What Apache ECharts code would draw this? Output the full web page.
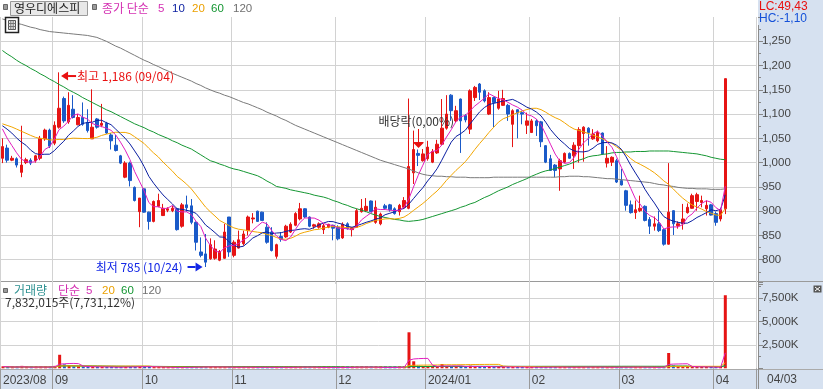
<!DOCTYPE html>
<html><head><meta charset="utf-8">
<style>
html,body{margin:0;padding:0;background:#fff;overflow:hidden;}
#wrap{position:relative;width:823px;height:389px;}
.bg{position:absolute;background:#D6E1F0;}
.ln{position:absolute;background:#9a9a9a;}
#c{position:absolute;left:0;top:0;width:823px;height:389px;}
</style>
<script src="https://cdn.jsdelivr.net/npm/echarts@6/dist/echarts.min.js"></script>
</head><body>
<div id="wrap">
  <div class="bg" style="left:758px;top:0;width:65px;height:389px;"></div>
  <div class="bg" style="left:0;top:370px;width:823px;height:19px;"></div>
  <div class="ln" style="left:0;top:281px;width:823px;height:1px;"></div>
  <div class="ln" style="left:0;top:369px;width:823px;height:1px;background:#aaa;"></div>
  <div class="ln" style="left:758px;top:25px;width:1px;height:364px;background:#8c8c8c;"></div>
  <div id="c"></div>
</div>
<script>
// ---------- data ----------
const months = [
  ['2023-08',[17,18,21,22,23,24,25,28,29,30,31]],
  ['2023-09',[1,4,5,6,7,8,11,12,13,14,15,18,19,20,21,22,25,26,27]],
  ['2023-10',[4,5,6,10,11,12,13,16,17,18,19,20,23,24,25,26,27,30,31]],
  ['2023-11',[1,2,3,6,7,8,9,10,13,14,15,16,17,20,21,22,23,24,27,28,29,30]],
  ['2023-12',[1,4,5,6,7,8,11,12,13,14,15,18,19,20,21,22,26,27,28]],
  ['2024-01',[2,3,4,5,8,9,10,11,12,15,16,17,18,19,22,23,24,25,26,29,30,31]],
  ['2024-02',[1,2,5,6,7,8,13,14,15,16,19,20,21,22,23,26,27,28,29]],
  ['2024-03',[4,5,6,7,8,11,12,13,14,15,18,19,20,21,22,25,26,27,28,29]],
  ['2024-04',[1,2,3]]
];
const opens = [1009,1030,1005,1008,980,1000,1005,1004,1009,1049, 1067,1040,1073,1132,1084,1110,1078,1093,1083,1049,
 1090,1077,1081,1057,1036,1014,970,999,949,899, 946,898,879,910,891,902,901,905,869,913,
 911,877,816,812,802,803,799,803,888,809, 824,833,860,884,900,898,867,857,807,848,
 847,857,871,884,905,888,869,867,862,867, 871,867,845,874,862,867,899,901,921,877,
 874,911,913,905,899,908,906,979,1019,1004, 1008,1001,1020,1038,1071,1139,1086,1131,1097,1069,
 1134,1162,1148,1100,1134,1112,1118,1118,1079,1109, 1103,1077,1062,1086,1084,1035,1008,995,987,1001,
 1019,1014,1035,1060,1071,1049,1045,1061,999,1001, 1004,963,942,913,897,901,910,883,869,874,
 862,832,901,870,874,897,906,920,918,905, 913,895,884,905];
const closes = [1033,1005,1009,995,995,1006,999,1014,1050,1067, 1034,1077,1112,1086,1118,1093,1093,1079,1066,1073,
 1073,1081,1061,1045,1025,999,999,963,922,927, 898,879,920,922,906,905,906,862,913,907,
 877,836,809,795,831,822,817,857,816,836, 841,853,888,886,879,881,836,819,831,842,
 869,873,895,905,888,869,872,874,870,873, 865,843,873,864,866,901,906,910,899,908,
 894,906,903,895,912,922,992,1027,1015,1018, 1032,1023,1038,1071,1100,1107,1107,1086,1088,1148,
 1155,1145,1127,1134,1124,1131,1132,1100,1107,1102, 1100,1086,1086,1076,1043,1001,984,984,1004,1019,
 1009,1036,1068,1073,1062,1059,1062,1018,1009,1011, 960,954,912,897,903,906,881,869,874,860,
 832,898,874,874,884,908,932,934,922,912, 892,877,903,1173];
const lows = [999,1000,1003,990,970,997,995,1000,1005,1045, 1030,1036,1070,1082,1080,1091,1077,1076,1062,1049,
 1070,1073,1059,1027,1023,997,968,951,920,867, 897,862,877,908,890,898,898,860,866,899,
 873,819,805,785,800,800,797,802,806,805, 823,829,850,875,878,880,833,817,802,837,
 845,855,869,881,886,867,864,864,853,865, 840,840,843,862,848,866,897,898,898,874,
 871,903,899,893,891,905,904,956,993,1002, 1004,999,1018,1036,1068,1086,1083,1020,1083,1059,
 1127,1129,1124,1098,1073,1109,1117,1086,1032,1050, 1079,1059,1061,1055,1032,999,984,970,942,999,
 1008,987,1000,1002,1035,1047,1042,1016,990,993, 958,953,901,895,884,898,879,853,860,857,
 829,831,851,864,862,895,905,901,908,891, 891,870,879,894];
const highs = [1050,1037,1014,1011,1076,1010,1009,1016,1055,1070, 1070,1085,1186,1136,1145,1139,1100,1124,1110,1151,
 1092,1121,1084,1061,1057,1016,1003,1002,951,927, 947,899,922,936,915,908,911,907,917,932,
 925,879,846,853,844,840,820,874,888,840, 860,860,891,896,901,899,877,867,833,857,
 872,877,898,917,906,889,874,877,874,874, 872,871,877,877,867,905,925,927,922,922,
 897,915,915,908,915,929,1132,1066,1027,1028, 1045,1028,1047,1131,1139,1141,1117,1132,1100,1151,
 1158,1164,1151,1145,1136,1148,1150,1121,1110,1110, 1107,1103,1090,1090,1086,1036,1016,997,1008,1021,
 1021,1042,1073,1075,1073,1069,1066,1062,1034,1013, 1008,987,944,922,922,932,912,888,889,901,
 864,999,902,879,915,916,936,938,932,922, 915,899,906,1173];
// volumes in thousand shares
const volumes = [180,150,90,110,260,80,70,90,210,170, 120,260,1450,420,300,180,140,160,120,240,
 110,130,100,120,110,130,150,170,180,200, 170,150,130,110,100,90,80,90,110,120,
 110,150,130,180,160,110,90,140,130,100, 90,110,130,100,90,80,120,110,100,70,
 110,90,170,160,110,90,70,80,90,70, 80,90,80,110,90,200,120,110,90,80,
 70,80,90,100,130,160,3860,750,280,220, 200,170,180,460,250,200,180,200,150,280,
 200,180,160,170,150,140,130,150,140,130, 110,100,110,120,100,130,140,110,150,100,
 90,120,150,160,120,100,110,140,120,100, 90,150,130,140,110,100,120,110,90,100,
 130,1640,300,150,160,180,200,160,120,110, 100,120,101.306,7832.015];
// closes before the first visible day (used only for the 5/10/20 averages)
const prevCloses = [1070,1075,1080,1085,1090,1088,1092,1095,1085,1080, 1075,1090,1095,1080,1072, 1100,1085,1070,1060];
// 60 and 120 day averages
const ma60 = [1231,1224,1218,1211,1205,1200,1194,1189,1183,1178, 1172,1167,1161,1156,1150,1145,1140,1134,1129,1124,
 1119,1114,1109,1105,1100,1095,1090,1085,1080,1076, 1072,1067,1063,1058,1054,1050,1045,1041,1036,1032,
 1028,1022,1016,1010,1004,1001,997,994,990,987, 985,982,979,976,973,968,962,957,951,949,
 947,944,942,940,938,936,933,931,929,926, 922,919,915,912,908,905,902,899,895,892,
 889,887,885,883,882,880,879,880,881,883, 886,889,892,895,898,901,904,908,911,915,
 918,923,928,932,937,942,946,950,955,959, 963,967,972,976,980,983,985,988,991,994,
 997,1001,1005,1008,1012,1014,1015,1017,1018,1020, 1021,1021,1022,1022,1023,1023,1023,1024,1024,1024,
 1024,1024,1023,1022,1021,1020,1019,1018,1016,1014, 1011,1009,1007,1006];
const ma120 = [1296,1293,1290,1287,1285,1282,1279,1277,1274,1272, 1270,1269,1268,1267,1266,1265,1264,1263,1262,1260,
 1258,1254,1250,1245,1240,1236,1231,1226,1221,1216, 1211,1207,1202,1198,1193,1189,1184,1180,1176,1172,
 1168,1163,1159,1154,1150,1146,1143,1139,1136,1132, 1128,1124,1121,1117,1113,1109,1104,1100,1096,1091,
 1087,1082,1077,1073,1069,1065,1061,1057,1053,1049, 1045,1041,1037,1033,1029,1025,1021,1017,1013,1009,
 1005,1002,999,996,993,990,987,983,979,976, 974,973,972,972,971,971,970,970,970,969,
 969,969,969,969,970,970,970,970,970,970, 970,970,970,970,970,970,970,970,971,971,
 972,972,972,971,971,970,969,968,967,967, 966,965,964,963,962,961,960,959,957,955,
 954,952,951,949,948,947,947,946,946,946, 945,945,945,946];
const priceTicks = [800,850,900,950,1000,1050,1100,1150,1200,1250];
const volTicks = [2500,5000,7500];

// ---------- build ----------
const RED='#E61414', BLUE='#1A5AC8';
const C5='#E11EBE', C10='#0A1EA0', C20='#F2A600', C60='#149632', C120='#7a7a7a';
const KR='"Noto Sans CJK KR", sans-serif';
const LAT='"Liberation Sans", "Noto Sans CJK KR", sans-serif';

const dates=[]; const monthStart=new Set(); const labelOf={};
months.forEach(([m,days])=>{
  days.forEach((d,k)=>{
    const s=m+'-'+String(d).padStart(2,'0');
    if(k===0){ monthStart.add(dates.length);
      const [y,mm]=m.split('-'); labelOf[s]=(dates.length===0||mm==='01')?(y+'/'+mm):mm; }
    dates.push(s);
  });
});
const cats=dates.concat(['p1','p2','p3','p4','p5','p6']);

function sma(src, prev, n){
  const all=prev.concat(src), off=prev.length;
  return src.map((_,i)=>{const j=i+off, st=Math.max(0,j-n+1); let s=0; for(let k=st;k<=j;k++) s+=all[k]; return +(s/(j-st+1)).toFixed(2);});
}
const ma5=sma(closes,prevCloses,5), ma10=sma(closes,prevCloses,10), ma20=sma(closes,prevCloses,20);
const vma5=sma(volumes,[],5), vma20=sma(volumes,[],20), vma60=sma(volumes,[],60), vma120=sma(volumes,[],120);

const ohlc=opens.map((o,i)=>[o,closes[i],lows[i],highs[i]]);
const volData=volumes.map((v,i)=>({value:v,itemStyle:{color:closes[i]>=opens[i]?RED:BLUE}}));

const chart=echarts.init(document.getElementById('c'),null,{renderer:'canvas'});
const isMS=(i)=>monthStart.has(i);
const gridCol='#D2D2D2';
function lineS(name,data,color,xi){return {name,type:'line',data,xAxisIndex:xi,yAxisIndex:xi,symbol:'none',showSymbol:false,silent:true,
  lineStyle:{width:1,color},itemStyle:{color},z:3,animation:false};}

chart.setOption({
  animation:false,
  textStyle:{fontFamily:LAT},
  grid:[{left:0,top:17,width:756,height:267},{left:0,top:282,width:756,height:86.3}],
  xAxis:[
    {type:'category',gridIndex:0,data:cats,boundaryGap:true,axisLine:{show:false},axisTick:{show:false},axisLabel:{show:false},
     splitLine:{show:true,interval:isMS,lineStyle:{color:gridCol,width:1}}},
    {type:'category',gridIndex:1,data:cats,boundaryGap:true,axisLine:{show:false},
     axisTick:{show:true,interval:isMS,length:21,lineStyle:{color:'#9a9a9a'}},
     axisLabel:{show:true,interval:isMS,align:'left',margin:6,color:'#444',fontSize:12,fontFamily:LAT,formatter:(v)=>labelOf[v]||''},
     splitLine:{show:true,interval:isMS,lineStyle:{color:gridCol,width:1}}}
  ],
  yAxis:[
    {type:'value',gridIndex:0,position:'right',offset:2,min:750,max:1300,interval:50,
     axisLine:{show:false},axisTick:{show:true,length:5,lineStyle:{color:'#888'}},
     minorTick:{show:true,splitNumber:2,length:3,lineStyle:{color:'#888'}},
     axisLabel:{margin:4,color:'#444',fontSize:11.5,fontFamily:LAT,formatter:(v)=>priceTicks.includes(v)?v.toLocaleString('en-US'):''},
     splitLine:{show:true,showMinLine:false,showMaxLine:false,lineStyle:{color:gridCol}}},
    {type:'value',gridIndex:1,position:'right',offset:2,min:0,max:9250,interval:2500,
     axisLine:{show:false},axisTick:{show:true,length:5,lineStyle:{color:'#888'}},
     minorTick:{show:true,splitNumber:2,length:3,lineStyle:{color:'#888'}},
     axisLabel:{margin:4,color:'#444',fontSize:11.5,fontFamily:LAT,formatter:(v)=>volTicks.includes(v)?v.toLocaleString('en-US')+'K':''},
     splitLine:{show:true,showMinLine:false,showMaxLine:false,lineStyle:{color:gridCol}}}
  ],
  series:[
    {name:'price',type:'candlestick',xAxisIndex:0,yAxisIndex:0,data:ohlc,barWidth:3,z:2,silent:true,
     itemStyle:{color:RED,color0:BLUE,borderColor:RED,borderColor0:BLUE,borderWidth:1}},
    lineS('ma120',ma120,C120,0), lineS('ma60',ma60,C60,0), lineS('ma20',ma20,C20,0),
    lineS('ma10',ma10,C10,0), lineS('ma5',ma5,C5,0),
    {name:'vol',type:'bar',xAxisIndex:1,yAxisIndex:1,data:volData,barWidth:3,barMinHeight:2,silent:true,z:2},
    lineS('v120',vma120,C120,1), lineS('v60',vma60,C60,1), lineS('v20',vma20,C20,1), lineS('v5',vma5,C5,1)
  ]
});

// ---------- annotations & chrome ----------
function T(x,y,text,color,size,family,align){
  return {type:'text',x,y,silent:true,z:100,style:{text,fill:color,fontSize:size,fontFamily:family,
    align:align||'left',verticalAlign:'middle',textAlign:align||'left',textVerticalAlign:'middle'}};
}
function L(x1,y1,x2,y2,color,w){return {type:'line',silent:true,z:100,shape:{x1,y1,x2,y2},style:{stroke:color,lineWidth:w||1}};}
function R(x,y,w,h,fill,stroke,lw){return {type:'rect',silent:true,z:100,shape:{x,y,width:w,height:h},style:{fill:fill,stroke:stroke||null,lineWidth:lw||1}};}
function P(pts,fill){return {type:'polygon',silent:true,z:100,shape:{points:pts},style:{fill}};}

const hi=chart.convertToPixel({xAxisIndex:0,yAxisIndex:0},[dates[12],1186]);
const lo=chart.convertToPixel({xAxisIndex:0,yAxisIndex:0},[dates[43],785]);
const dv=chart.convertToPixel({xAxisIndex:0,yAxisIndex:0},[dates[88],highs[88]]);

const hx=hi[0]+2, hy=hi[1]+3.7;
const lx=lo[0]-3, ly=lo[1];
const dx=Math.round(dv[0])+0.5, dy=dv[1]-1.5;

const g=[
  // top legend
  R(3.5,4.5,4,5,'#9a9a9a','#666'),
  R(10.5,1.5,77,14,'#E8E8E8','#9a9a9a'),
  T(14,8.5,'영우디에스피','#222',12,KR),
  R(92.5,4.5,4,5,'#9a9a9a','#666'),
  T(102,8.5,'종가 단순','#D42FB2',12,KR),
  T(158,8.5,'5','#D42FB2',11.5,LAT),
  T(172,8.5,'10',C10,11.5,LAT),
  T(192,8.5,'20','#EBA000',11.5,LAT),
  T(211,8.5,'60',C60,11.5,LAT),
  T(233,8.5,'120','#707070',11.5,LAT),
  // grid icon
  R(5.5,17.5,13,15,'#fff','#222',1.5),
  R(8.5,20.5,7,9,'#e6e6e6','#555',1),
  L(10.8,20.5,10.8,29.5,'#777',1), L(13.2,20.5,13.2,29.5,'#777',1),
  L(8.5,23.5,15.5,23.5,'#777',1), L(8.5,26.5,15.5,26.5,'#777',1),
  // right top
  T(759,7,'LC:49,43','#E81010',12,LAT),
  T(759,18.7,'HC:-1,10','#1450D8',12,LAT),
  // volume legend
  R(3.5,288.5,4,4,'#9a9a9a','#666'),
  T(14,290.5,'거래량','#2E9191',12,KR),
  T(58,290.5,'단순','#D42FB2',12,KR),
  T(86,290.5,'5','#D42FB2',11.5,LAT),
  T(102,290.5,'20','#EBA000',11.5,LAT),
  T(121,290.5,'60',C60,11.5,LAT),
  T(142,290.5,'120','#707070',11.5,LAT),
  T(5,302.5,'7,832,015주(7,731,12%)','#333',12,KR),
  // close icon
  R(813.5,285.5,8,7,'#555',null),
  L(815,287,820,291,'#fff',1), L(820,287,815,291,'#fff',1),
  // date at right
  T(767,379.5,'04/03','#444',12,LAT),
  // high
  P([[hx,hy],[hx+7,hy-4.5],[hx+7,hy+4.5]],'#E81010'),
  L(hx+7,hy,hx+15,hy,'#E81010',2),
  T(hx+16,hy,'최고 1,186 (09/04)','#E81010',12,KR),
  // low
  P([[lx,ly],[lx-7,ly-4.5],[lx-7,ly+4.5]],'#1428E6'),
  L(lx-7,ly,lx-15,ly,'#1428E6',2),
  T(lx-20,ly,'최저 785 (10/24)','#1428E6',12,KR,'right'),
  // ex-dividend
  P([[dx,dy],[dx-5,dy-5],[dx+5,dy-5]],'#E81010'),
  L(dx-5,dy-5.5,dx+5,dy-5.5,'#E81010',1),
  L(dx,dy-5,dx,dy-19,'#E81010',1),
  T(dx-40,dy-27,'배당락(0,00%)','#333',12,KR)
];
chart.setOption({graphic:{elements:g}});
</script>
</body></html>
